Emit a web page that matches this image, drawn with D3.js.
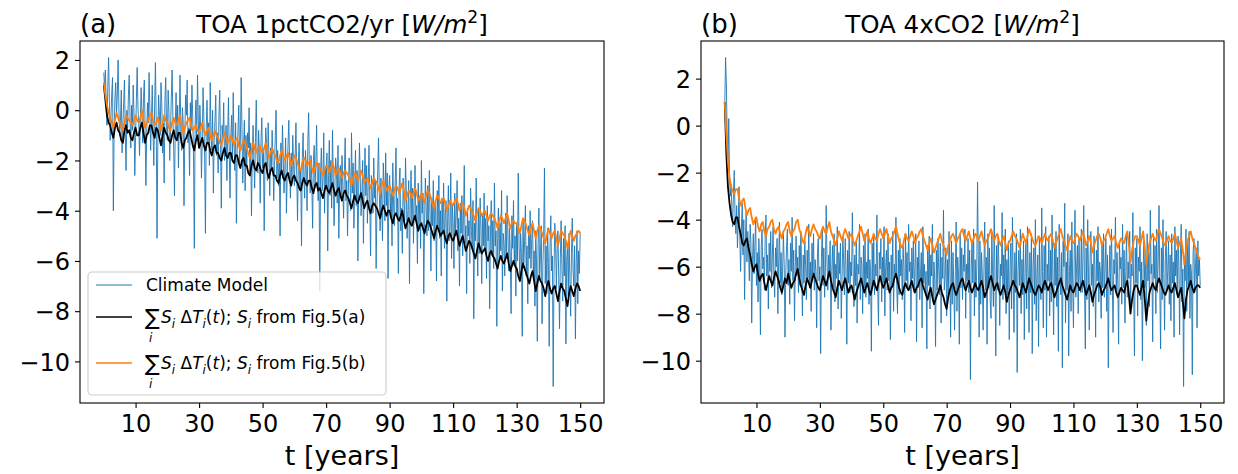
<!DOCTYPE html>
<html>
<head>
<meta charset="utf-8">
<script src="https://cdn.jsdelivr.net/npm/d3@7"></script>
<style>
  body { margin: 0; background: #fff; }
  text { font-family: "DejaVu Sans", sans-serif; fill: #000; white-space: pre; }
</style>
</head>
<body>
<div id="wrapper"></div>
<script>
// time span of every series (years); points are spread evenly over it
const tStart = 0, tEnd = 150;
const xTicks = [10, 30, 50, 70, 90, 110, 130, 150];
const yTicks = [-10, -8, -6, -4, -2, 0, 2];

// (a) 1pctCO2 - climate model, quarter-year samples
const modelA = [
  1.5, 0.8, 1.6, 0.2, -0.6, 0.9, 2.1, 0.4, -1.2, -0.3, 0.7, 1.3, -4.0, -0.8, 0.5, 1.1, -0.2, 0.6, 2.0, 0.1, -1.0, -0.4, 0.8, -1.7, -0.6, 0.3, 1.2, -0.9, -2.4, 0.0,
  -0.7, 0.6, 1.4, -0.3, -1.5, 0.2, -0.8, 1.0, -0.2, -2.6, -1.1, 0.4, 1.7, 0.1, -0.6, -1.8, -0.4, 0.9, -0.1, -1.3, 0.5, 1.2, -0.7, -3.0, -0.9, 0.3, -0.5, 1.5, 0.0, -1.6,
  -0.3, 1.0, -0.9, -2.2, 0.2, 1.9, -0.4, -5.1, -1.4, 0.6, -0.2, -1.0, 1.1, 0.3, -1.7, -0.5, -2.9, 0.4, 1.3, -0.6, -1.2, 0.8, -0.1, -2.0, -0.8, 0.5, 1.6, -0.3, -1.5, -3.4,
  -0.6, 0.7, -1.1, 0.2, -2.3, -0.4, 1.4, -0.9, -1.6, 0.1, -0.5, -3.8, -1.0, 0.6, -0.2, 1.2, -1.3, -0.7, -2.6, 0.3, -0.8, 1.0, -0.3, -1.9, -5.5, -0.6, 0.4, -1.2, 1.4, -0.4,
  -1.5, 0.2, -0.8, -2.7, -1.1, 0.9, -0.3, -1.9, -4.9, -0.7, 0.4, -1.3, -0.5, -2.2, 1.1, -0.9, -1.6, 0.0, -3.3, -1.2, -0.4, 0.6, -1.8, -0.9, -2.5, -0.2, 0.8, -1.4, -3.9, -0.6,
  -1.1, 0.3, -2.0, -1.4, -0.6, -2.8, -0.9, 0.5, -1.7, -3.5, -1.0, -0.2, -1.9, 0.7, -1.3, -2.4, -0.5, -4.5, -1.6, -0.8, 0.2, -2.1, -1.2, 1.3, -0.7, -2.9, -1.5, -0.4, -3.2, -1.0,
  -2.2, -0.9, -1.5, 0.1, -2.6, -1.3, -4.2, -1.8, -0.6, -2.0, -3.1, -1.1, 0.4, -1.7, -2.5, -0.8, -1.9, -3.7, -1.2, -0.3, -2.3, -1.6, -4.8, -2.0, -0.7, -1.4, -2.8, -0.5, -1.8, -3.4,
  -1.5, -2.4, -0.8, -1.9, -3.6, -2.2, -1.0, 0.0, -2.7, -1.6, -3.0, -2.1, -5.0, -1.3, -2.5, -0.6, -1.9, -3.3, -2.3, -1.1, -4.1, -2.6, -1.4, -0.4, -2.0, -3.5, -1.7, -2.8, -1.0, -2.2,
  -3.0, -1.8, -0.5, -2.6, -4.4, -2.1, -1.3, -3.2, -2.4, -5.4, -1.9, -0.9, -2.7, -3.5, -1.6, -2.3, -4.0, -1.2, -0.1, -2.5, -3.3, -1.8, -2.9, -4.7, -2.0, -1.4, -3.1, -2.2, -0.6, -2.8,
  -3.6, -2.1, -7.2, -2.5, -1.5, -3.2, -2.8, -0.9, -4.1, -2.3, -3.0, -1.7, -5.6, -2.6, -1.2, -3.4, -2.0, -3.9, -0.8, -2.7, -4.6, -3.1, -1.9, -2.4, -3.7, -1.4, -5.1, -2.9, -2.2, -3.5,
  -1.8, -3.0, -4.3, -2.5, -1.1, -3.6, -2.8, -5.0, -3.2, -1.9, -2.6, -4.0, -0.9, -3.3, -2.1, -4.7, -3.0, -1.6, -3.8, -2.4, -6.0, -3.1, -1.3, -2.7, -4.2, -3.5, -2.0, -5.3, -2.9, -1.5,
  -3.4, -2.2, -4.5, -3.0, -1.4, -3.7, -5.8, -2.6, -3.2, -4.1, -1.9, -3.5, -2.8, -6.3, -3.9, -2.4, -1.1, -3.3, -4.8, -2.7, -3.6, -5.2, -2.1, -3.0, -4.4, -1.7, -3.8, -2.5, -6.7, -3.2,
  -2.6, -4.0, -3.3, -5.4, -2.1, -3.8, -4.6, -2.9, -1.5, -4.2, -3.5, -6.5, -3.0, -2.3, -4.8, -3.9, -5.7, -2.7, -3.6, -4.4, -1.9, -3.2, -5.1, -4.0, -2.8, -6.9, -3.7, -2.4, -4.5, -3.1,
  -5.3, -3.6, -2.2, -4.3, -3.8, -6.1, -2.9, -4.7, -3.4, -5.5, -2.0, -4.1, -3.3, -7.3, -4.5, -2.7, -3.9, -5.0, -3.0, -4.8, -2.4, -4.2, -6.4, -3.5, -4.6, -2.8, -5.2, -3.7, -4.0, -6.8,
  -3.2, -4.6, -2.6, -5.1, -4.0, -6.6, -3.5, -4.8, -2.9, -5.5, -4.2, -3.6, -7.6, -4.4, -3.0, -5.2, -4.7, -2.5, -5.9, -3.8, -4.5, -6.3, -3.3, -5.0, -4.1, -2.8, -5.6, -4.3, -7.0, -3.7,
  -4.9, -3.4, -5.8, -4.2, -2.2, -5.3, -4.6, -7.3, -3.9, -5.0, -4.4, -6.1, -3.1, -4.8, -5.5, -3.6, -8.3, -4.5, -5.2, -2.7, -4.9, -6.6, -4.0, -5.7, -3.5, -4.7, -6.9, -4.1, -5.4, -3.3,
  -5.5, -4.3, -6.7, -3.8, -5.2, -4.6, -7.9, -5.0, -3.6, -5.8, -4.4, -6.3, -2.9, -5.4, -4.8, -8.6, -5.1, -3.9, -6.0, -4.5, -5.6, -3.2, -7.2, -4.9, -5.3, -6.6, -4.1, -5.9, -3.4, -5.0,
  -6.4, -4.7, -5.8, -8.1, -4.2, -5.5, -3.6, -6.2, -5.0, -7.4, -4.5, -6.0, -2.5, -5.3, -6.8, -4.9, -5.7, -9.0, -4.3, -6.1, -5.2, -3.8, -6.6, -5.4, -7.7, -4.6, -5.9, -4.0, -6.3, -5.1,
  -4.4, -6.5, -5.6, -7.8, -4.8, -6.0, -9.2, -5.3, -3.9, -6.7, -5.7, -4.6, -8.5, -6.2, -5.0, -2.3, -6.9, -5.4, -7.3, -4.7, -6.1, -9.4, -5.5, -4.2, -6.4, -5.8, -11.0, -6.6, -4.5, -5.2,
  -7.1, -5.5, -4.8, -6.8, -8.7, -5.9, -4.4, -6.3, -7.6, -5.1, -6.6, -4.6, -9.3, -6.0, -5.3, -7.4, -4.9, -6.7, -8.2, -5.7, -4.3, -6.4, -7.0, -5.4, -9.1, -6.1, -4.8, -7.7, -5.6, -6.5,
  -4.9
];
// (a) sum with S_i from Fig.5(a), half-year samples
const fitA_a = [
  1.0, 0.4, -0.2, -0.5, -0.6, -0.9, -1.1, -0.7, -0.5, -0.8, -0.9, -1.2, -1.3, -0.8, -0.6, -0.9, -0.8, -1.1, -1.2, -0.9,
  -0.7, -1.0, -1.0, -0.7, -0.5, -0.9, -1.3, -1.0, -0.9, -0.6, -0.6, -0.9, -1.1, -0.7, -0.8, -1.1, -1.4, -1.0, -0.7, -0.9,
  -1.0, -1.2, -1.3, -1.0, -0.8, -1.1, -1.2, -0.9, -0.9, -1.3, -1.5, -1.2, -1.1, -0.9, -0.8, -1.1, -1.4, -1.6, -1.2, -1.0,
  -1.5, -1.3, -1.1, -1.4, -1.6, -1.3, -1.3, -1.6, -1.8, -1.5, -1.4, -1.7, -1.7, -1.9, -2.0, -1.7, -1.5, -1.8, -1.9, -1.7,
  -1.7, -2.0, -2.1, -1.8, -1.8, -2.1, -2.3, -2.0, -1.9, -2.2, -2.2, -2.5, -2.6, -2.2, -2.0, -2.3, -2.4, -2.1, -2.2, -2.4,
  -2.5, -2.2, -2.1, -2.5, -2.7, -2.4, -2.3, -2.6, -2.6, -2.8, -2.9, -2.6, -2.4, -2.7, -2.8, -2.6, -2.5, -2.8, -3.0, -2.7,
  -2.6, -2.8, -2.9, -3.1, -3.2, -2.9, -2.7, -2.9, -3.0, -2.8, -2.8, -3.1, -3.3, -3.0, -2.9, -3.2, -3.1, -3.3, -3.5, -3.2,
  -3.0, -3.2, -3.3, -3.1, -2.9, -3.2, -3.4, -3.2, -3.1, -3.4, -3.6, -3.3, -3.2, -3.4, -3.5, -3.7, -3.9, -3.6, -3.4, -3.6,
  -3.7, -3.5, -3.3, -3.6, -3.9, -3.7, -3.6, -3.9, -4.1, -3.8, -3.7, -3.8, -3.9, -4.1, -4.3, -4.0, -3.8, -4.0, -4.2, -4.0,
  -4.0, -4.3, -4.5, -4.2, -4.1, -4.3, -4.4, -4.2, -4.0, -4.4, -4.7, -4.5, -4.3, -4.5, -4.6, -4.4, -4.2, -4.5, -4.8, -4.6,
  -4.5, -4.7, -4.9, -4.6, -4.4, -4.5, -4.7, -4.9, -5.1, -4.8, -4.6, -4.8, -5.0, -4.9, -4.8, -5.1, -5.3, -5.0, -4.9, -5.1,
  -5.2, -5.0, -4.8, -5.1, -5.4, -5.2, -5.0, -5.3, -5.6, -5.4, -5.2, -5.3, -5.5, -5.7, -5.9, -5.6, -5.3, -5.5, -5.7, -5.6,
  -5.5, -5.8, -6.0, -5.7, -5.6, -5.8, -5.9, -6.1, -6.3, -6.0, -5.8, -6.0, -6.1, -5.9, -5.7, -6.1, -6.4, -6.2, -6.0, -6.2,
  -6.3, -6.6, -6.8, -6.4, -6.1, -6.3, -6.5, -6.7, -6.9, -6.6, -6.4, -6.8, -7.2, -6.9, -6.6, -6.8, -6.9, -7.1, -7.4, -7.0,
  -6.8, -7.1, -7.3, -7.1, -7.0, -7.3, -7.6, -7.2, -6.9, -7.1, -7.2, -7.5, -7.8, -7.3, -7.0, -7.2, -7.4, -7.1, -6.9, -7.0,
  -7.2
];
// (a) sum with S_i from Fig.5(b), half-year samples
const fitA_b = [
  1.1, 0.6, 0.2, -0.1, -0.3, -0.5, -0.7, -0.4, -0.1, -0.3, -0.5, -0.7, -0.8, -0.5, -0.2, -0.3, -0.4, -0.5, -0.6, -0.4,
  -0.2, -0.4, -0.5, -0.3, 0.0, -0.4, -0.7, -0.5, -0.4, -0.2, -0.1, -0.4, -0.6, -0.5, -0.3, -0.5, -0.8, -0.5, -0.2, -0.4,
  -0.5, -0.7, -0.8, -0.5, -0.3, -0.5, -0.6, -0.4, -0.2, -0.6, -0.9, -0.7, -0.5, -0.4, -0.3, -0.6, -0.8, -0.7, -0.6, -0.8,
  -0.9, -0.7, -0.5, -0.8, -1.0, -0.8, -0.7, -1.0, -1.2, -1.0, -0.8, -1.0, -1.1, -1.3, -1.4, -1.1, -0.9, -1.1, -1.3, -1.2,
  -1.0, -1.2, -1.4, -1.2, -1.1, -1.4, -1.6, -1.4, -1.2, -1.3, -1.5, -1.7, -1.9, -1.6, -1.3, -1.5, -1.7, -1.5, -1.4, -1.6,
  -1.7, -1.5, -1.3, -1.6, -1.9, -1.7, -1.5, -1.7, -1.8, -2.0, -2.1, -1.8, -1.6, -1.8, -2.0, -1.8, -1.7, -1.9, -2.2, -2.0,
  -1.8, -1.9, -2.1, -2.3, -2.4, -2.1, -1.9, -2.0, -2.2, -2.1, -2.0, -2.3, -2.5, -2.3, -2.1, -2.2, -2.3, -2.4, -2.6, -2.4,
  -2.2, -2.3, -2.5, -2.3, -2.1, -2.3, -2.6, -2.4, -2.3, -2.5, -2.7, -2.5, -2.4, -2.5, -2.6, -2.8, -3.0, -2.7, -2.5, -2.6,
  -2.8, -2.6, -2.4, -2.6, -2.9, -2.8, -2.7, -2.9, -3.1, -2.9, -2.7, -2.8, -2.9, -3.1, -3.3, -3.0, -2.8, -3.0, -3.2, -3.1,
  -3.0, -3.2, -3.4, -3.2, -3.0, -3.1, -3.3, -3.1, -2.9, -3.2, -3.6, -3.4, -3.2, -3.3, -3.5, -3.3, -3.1, -3.3, -3.6, -3.5,
  -3.3, -3.5, -3.7, -3.4, -3.2, -3.3, -3.5, -3.7, -3.9, -3.6, -3.4, -3.5, -3.7, -3.6, -3.5, -3.7, -4.0, -3.8, -3.6, -3.7,
  -3.8, -3.6, -3.5, -3.7, -4.0, -3.8, -3.7, -3.9, -4.2, -4.0, -3.8, -3.9, -4.1, -4.2, -4.4, -4.1, -3.9, -4.0, -4.2, -4.1,
  -4.0, -4.2, -4.4, -4.2, -4.1, -4.2, -4.3, -4.5, -4.7, -4.4, -4.2, -4.3, -4.5, -4.3, -4.1, -4.4, -4.7, -4.5, -4.4, -4.5,
  -4.5, -4.7, -4.9, -4.6, -4.3, -4.4, -4.6, -4.8, -5.0, -4.7, -4.5, -4.8, -5.1, -4.8, -4.6, -4.7, -4.9, -5.1, -5.3, -5.0,
  -4.7, -4.9, -5.1, -4.9, -4.8, -5.1, -5.4, -5.1, -4.8, -4.9, -5.0, -5.2, -5.5, -5.1, -4.8, -5.0, -5.2, -5.0, -4.9, -4.8,
  -4.9
];

// (b) 4xCO2 - climate model, quarter-year samples
const modelB = [
  0.9, 2.9, 1.8, -0.4, -1.6, 0.3, -2.2, -3.0, -2.5, -3.6, -4.3, -2.8, -1.9, -3.9, -4.6, -3.4, -5.2, -4.1, -2.6, -4.8, -6.2, -4.4, -3.3, -5.5, -4.0, -7.4, -4.9, -3.7, -5.8, -4.5,
  -5.3, -6.6, -4.2, -5.0, -8.4, -5.7, -4.6, -6.3, -5.1, -3.9, -6.8, -5.4, -7.5, -4.8, -5.9, -8.9, -5.2, -4.4, -6.1, -5.6, -7.0, -4.7, -3.8, -6.4, -5.5, -7.8, -5.0, -6.2, -4.5, -6.9,
  -5.6, -4.3, -6.5, -7.3, -5.2, -6.0, -4.8, -8.0, -5.8, -4.1, -6.7, -5.4, -7.2, -6.1, -4.6, -5.9, -9.0, -6.3, -5.1, -4.4, -6.8, -5.7, -7.6, -5.0, -6.2, -3.9, -6.6, -5.3, -8.3, -6.0,
  -4.7, -6.4, -5.6, -7.1, -5.1, -6.8, -4.5, -6.1, -8.1, -5.5, -6.7, -4.9, -5.9, -7.4, -5.3, -6.5, -4.2, -6.9, -5.8, -7.9, -5.0, -6.3, -4.6, -7.0, -5.7, -6.2, -8.6, -5.4, -4.8, -6.6,
  -6.0, -9.7, -5.6, -4.4, -6.8, -5.2, -7.3, -6.1, -3.4, -5.8, -7.0, -5.5, -6.4, -4.9, -8.7, -6.2, -5.1, -6.9, -4.6, -7.5, -5.9, -6.5, -4.3, -7.8, -5.4, -6.3, -5.0, -8.2, -6.6, -4.7,
  -5.7, -7.2, -4.8, -6.0, -9.3, -5.3, -6.7, -4.5, -7.1, -5.8, -6.4, -3.7, -6.1, -7.7, -5.5, -6.8, -4.9, -8.4, -5.9, -6.3, -4.2, -7.4, -5.6, -6.0, -8.0, -5.1, -6.9, -4.6, -7.3, -5.8,
  -6.5, -4.4, -7.6, -5.7, -6.2, -9.6, -5.0, -6.8, -4.7, -7.2, -5.9, -6.4, -3.8, -6.9, -8.5, -5.4, -6.1, -4.8, -7.5, -5.6, -6.7, -4.3, -8.1, -6.0, -5.3, -7.0, -4.6, -6.6, -5.8, -9.1,
  -5.5, -6.9, -4.5, -7.9, -5.9, -6.3, -3.9, -6.8, -8.0, -5.3, -7.2, -4.8, -6.4, -5.7, -7.4, -5.1, -6.0, -8.8, -4.6, -6.6, -5.4, -7.0, -4.2, -6.2, -5.8, -8.3, -5.2, -6.5, -4.9, -7.1,
  -6.0, -4.6, -9.2, -5.6, -6.9, -4.9, -7.4, -6.3, -5.4, -8.6, -4.3, -6.7, -5.9, -7.1, -6.2, -9.5, -5.1, -6.8, -4.7, -7.8, -5.5, -6.4, -4.2, -7.5, -5.8, -6.6, -9.4, -5.3, -7.0, -4.8,
  -6.1, -7.2, -5.0, -8.4, -5.6, -6.5, -3.6, -7.0, -6.4, -5.2, -8.1, -5.7, -7.3, -4.5, -6.0, -9.0, -4.9, -7.6, -5.4, -6.8, -8.7, -6.2, -4.1, -7.9, -5.6, -6.3, -9.3, -4.6, -6.9, -5.2,
  -7.4, -5.5, -6.2, -4.4, -8.2, -5.9, -6.6, -4.8, -7.1, -5.3, -10.8, -6.0, -5.0, -6.7, -4.4, -8.1, -5.7, -7.3, -6.1, -2.4, -5.8, -9.0, -4.9, -7.6, -5.4, -6.3, -8.7, -6.2, -4.1, -7.0,
  -5.6, -9.3, -4.6, -6.9, -5.2, -7.5, -8.2, -4.5, -6.3, -7.7, -3.4, -6.6, -9.8, -5.1, -7.0, -4.7, -6.0, -8.5, -5.9, -6.4, -3.7, -7.4, -5.5, -6.8, -4.4, -8.0, -5.7, -7.2, -4.9, -9.1,
  -6.1, -5.0, -7.8, -3.9, -6.5, -8.8, -5.4, -7.1, -4.6, -10.5, -6.2, -5.3, -6.8, -4.4, -8.0, -5.7, -7.2, -4.9, -9.1, -6.1, -5.0, -7.8, -4.3, -6.5, -8.8, -5.4, -7.1, -4.6, -9.7, -6.0,
  -5.2, -7.6, -4.0, -8.3, -6.3, -5.5, -9.4, -4.8, -6.9, -7.4, -3.5, -6.2, -8.6, -5.1, -7.0, -4.3, -9.0, -5.9, -6.6, -4.7, -8.1, -5.3, -7.5, -3.8, -6.4, -8.9, -5.0, -6.8, -4.5, -7.7,
  -5.6, -9.6, -4.2, -6.3, -7.2, -5.4, -10.3, -4.9, -6.0, -3.3, -8.4, -5.8, -7.0, -4.6, -9.8, -6.2, -5.3, -7.9, -4.1, -6.7, -8.6, -5.5, -3.6, -7.3, -6.0, -5.1, -8.0, -4.8, -6.5, -7.1,
  -4.4, -7.1, -5.7, -3.4, -6.9, -9.5, -5.2, -7.4, -4.0, -6.3, -8.7, -5.6, -4.5, -6.8, -5.9, -7.7, -4.7, -6.1, -9.0, -5.3, -6.6, -4.3, -7.5, -5.8, -6.2, -8.2, -5.0, -6.9, -4.6, -7.3,
  -6.0, -4.8, -7.9, -5.5, -10.3, -6.4, -5.1, -7.2, -4.4, -6.6, -8.8, -5.7, -6.3, -3.9, -7.0, -5.4, -6.8, -9.3, -4.9, -6.1, -5.6, -7.6, -4.2, -6.9, -5.3, -8.4, -6.2, -4.7, -7.3, -5.8,
  -6.5, -4.5, -7.8, -5.9, -6.4, -3.7, -7.1, -9.8, -5.2, -6.7, -4.8, -8.1, -5.6, -6.2, -4.3, -7.4, -5.8, -10.0, -6.0, -4.9, -6.9, -5.3, -8.5, -4.6, -6.6, -5.4, -7.7, -3.6, -6.3, -5.9,
  -9.2, -4.8, -6.5, -5.1, -8.0, -4.4, -7.1, -5.7, -3.4, -6.9, -9.5, -5.2, -7.4, -4.0, -6.3, -8.7, -5.6, -4.5, -7.0, -6.2, -4.9, -7.6, -5.5, -8.3, -4.6, -6.7, -5.8, -9.0, -4.3, -6.4,
  -5.3, -7.2, -4.7, -6.0, -8.9, -5.5, -4.2, -7.5, -6.1, -11.1, -5.8, -6.6, -4.4, -7.9, -5.0, -6.8, -4.5, -8.2, -5.9, -6.3, -10.6, -5.4, -4.8, -7.1, -6.0, -5.2, -8.6, -4.9, -6.4, -5.7,
  -6.8
];
// (b) sum with S_i from Fig.5(a), half-year samples
const fitB_a = [
  1.0, -1.2, -2.6, -3.3, -3.8, -4.1, -4.2, -3.9, -3.9, -4.3, -4.6, -5.0, -5.1, -4.9, -4.8, -5.2, -5.5, -5.9, -6.2, -6.0,
  -5.9, -6.3, -6.6, -6.4, -6.3, -6.7, -7.0, -6.7, -6.4, -6.6, -6.8, -6.5, -6.2, -6.4, -6.6, -6.9, -7.1, -6.8, -6.5, -6.7,
  -6.3, -6.6, -6.9, -6.7, -6.6, -6.3, -6.1, -6.5, -6.8, -7.0, -7.2, -6.8, -6.5, -6.7, -6.9, -6.6, -6.3, -6.5, -6.7, -6.9,
  -7.0, -6.7, -6.4, -6.6, -6.8, -6.5, -6.2, -6.6, -6.9, -7.1, -7.3, -6.9, -6.6, -6.8, -7.0, -6.7, -6.5, -6.8, -7.1, -6.9,
  -6.8, -7.1, -7.4, -7.1, -6.9, -6.7, -6.5, -6.8, -7.1, -6.9, -6.7, -7.0, -7.2, -6.9, -6.6, -6.8, -7.0, -6.7, -6.4, -6.7,
  -6.9, -6.7, -6.5, -6.8, -7.1, -6.9, -6.8, -6.5, -6.3, -6.6, -6.9, -7.1, -7.2, -6.9, -6.7, -6.9, -7.0, -6.8, -6.6, -6.9,
  -7.1, -6.9, -6.8, -6.6, -6.5, -6.8, -7.0, -7.2, -7.4, -7.1, -6.9, -7.3, -7.6, -7.4, -7.2, -7.0, -6.8, -7.1, -7.3, -7.6,
  -7.8, -7.3, -7.0, -6.8, -6.7, -7.0, -7.2, -7.0, -6.8, -6.6, -6.5, -6.8, -7.0, -6.8, -6.6, -6.9, -7.1, -6.9, -6.7, -6.9,
  -7.0, -6.8, -6.6, -6.9, -7.3, -7.1, -6.9, -6.6, -6.4, -6.7, -7.0, -6.8, -6.7, -7.0, -7.2, -7.0, -6.8, -7.1, -7.5, -7.2,
  -7.0, -6.8, -6.6, -6.8, -6.9, -7.1, -7.3, -7.0, -6.7, -6.9, -7.1, -6.8, -6.5, -6.7, -6.9, -7.1, -7.2, -7.0, -6.8, -6.9,
  -7.1, -6.8, -6.6, -6.8, -7.0, -6.8, -6.7, -7.0, -7.3, -7.1, -6.9, -6.7, -6.5, -6.8, -7.0, -7.2, -7.4, -7.1, -6.8, -7.0,
  -7.1, -6.9, -6.7, -6.8, -7.0, -6.8, -6.6, -6.9, -7.2, -7.0, -6.8, -7.1, -7.5, -7.2, -7.0, -6.8, -6.7, -6.9, -7.2, -7.0,
  -6.9, -6.7, -6.5, -6.8, -7.0, -6.9, -6.8, -7.1, -7.3, -7.1, -6.9, -7.0, -7.1, -6.8, -6.6, -7.2, -8.0, -7.4, -7.0, -6.8,
  -6.8, -7.0, -7.2, -6.9, -6.6, -7.4, -8.3, -7.6, -7.1, -6.9, -6.7, -6.9, -7.0, -6.7, -6.5, -6.7, -6.9, -7.1, -7.2, -7.0,
  -6.8, -7.0, -7.1, -6.9, -6.7, -7.0, -7.3, -7.1, -6.9, -7.5, -8.2, -7.4, -7.0, -6.8, -6.6, -6.9, -7.1, -6.9, -6.8, -6.8,
  -6.9
];
// (b) sum with S_i from Fig.5(b), half-year samples
const fitB_b = [
  1.0, -0.4, -1.5, -2.2, -2.6, -2.8, -2.9, -2.7, -2.7, -3.1, -3.4, -3.2, -3.1, -3.5, -3.8, -3.6, -3.5, -3.9, -4.2, -4.0,
  -3.9, -4.3, -4.5, -4.2, -4.1, -4.5, -4.7, -4.4, -4.3, -4.1, -4.0, -4.4, -4.6, -4.4, -4.3, -4.6, -4.8, -4.5, -4.4, -4.2,
  -4.1, -4.5, -4.7, -4.5, -4.4, -4.1, -4.0, -4.4, -4.6, -4.9, -5.0, -4.6, -4.3, -4.5, -4.7, -4.4, -4.2, -4.4, -4.5, -4.7,
  -4.8, -4.5, -4.3, -4.5, -4.6, -4.3, -4.1, -4.5, -4.7, -4.9, -5.1, -4.8, -4.5, -4.7, -4.9, -4.6, -4.4, -4.6, -4.8, -4.7,
  -4.6, -4.9, -5.1, -4.9, -4.7, -4.5, -4.3, -4.6, -4.9, -4.7, -4.5, -4.8, -5.0, -4.8, -4.6, -4.8, -4.9, -4.6, -4.4, -4.6,
  -4.8, -4.6, -4.4, -4.7, -5.0, -4.8, -4.7, -4.5, -4.3, -4.6, -4.9, -5.1, -5.2, -4.9, -4.6, -4.8, -4.9, -4.7, -4.5, -4.7,
  -5.0, -4.8, -4.7, -4.5, -4.4, -4.7, -4.9, -5.1, -5.3, -5.0, -4.8, -5.1, -5.4, -5.2, -5.0, -4.8, -4.6, -4.9, -5.1, -5.3,
  -5.5, -5.1, -4.9, -4.7, -4.6, -4.8, -5.0, -4.8, -4.7, -4.5, -4.4, -4.7, -4.9, -4.7, -4.5, -4.8, -5.0, -4.8, -4.6, -4.7,
  -4.9, -4.7, -4.5, -4.8, -5.1, -4.9, -4.8, -4.6, -4.4, -4.7, -4.9, -4.7, -4.6, -4.9, -5.1, -4.9, -4.7, -5.0, -5.3, -5.0,
  -4.9, -4.7, -4.5, -4.7, -4.8, -5.0, -5.2, -4.9, -4.6, -4.8, -5.0, -4.7, -4.4, -4.6, -4.8, -5.0, -5.1, -4.9, -4.7, -4.8,
  -5.0, -4.8, -4.6, -4.8, -4.9, -4.7, -4.6, -4.9, -5.2, -5.0, -4.8, -4.6, -4.4, -4.7, -4.9, -5.1, -5.3, -5.0, -4.7, -4.9,
  -5.0, -4.8, -4.6, -4.7, -4.9, -4.7, -4.5, -4.8, -5.1, -4.9, -4.7, -5.0, -5.4, -5.1, -4.9, -4.7, -4.6, -4.8, -5.1, -4.9,
  -4.8, -4.6, -4.4, -4.7, -4.9, -4.8, -4.7, -5.0, -5.2, -5.0, -4.8, -4.9, -5.0, -4.7, -4.5, -5.1, -5.8, -5.3, -4.9, -4.7,
  -4.7, -4.9, -5.1, -4.8, -4.5, -5.2, -5.9, -5.4, -5.0, -4.8, -4.6, -4.8, -4.9, -4.6, -4.4, -4.6, -4.8, -5.0, -5.1, -4.9,
  -4.7, -4.9, -5.0, -4.8, -4.6, -4.9, -5.2, -5.0, -4.8, -5.3, -5.9, -5.3, -4.9, -4.7, -4.5, -4.8, -5.0, -5.2, -5.4, -5.6,
  -5.7
];

const panelLabels = ["(a)", "(b)"];
const panelTitles = ["TOA 1pctCO2/yr [", "TOA 4xCO2 ["];
const legendNames = ["Climate Model", "Fig.5(a)", "Fig.5(b)"];

function drawChart() {
  // 1. Dimensions
  const dimensions = { width: 1238, height: 474, top: 41, bottom: 403 };
  const panels = [
    { left: 80, right: 604, series: [modelA, fitA_a, fitA_b], legend: true },
    { left: 701, right: 1224, series: [modelB, fitB_a, fitB_b], legend: false }
  ];
  const colors = ["#1f77b4", "#000000", "#ff7f0e"];
  const widths = [0.9, 1.8, 1.8];

  // 2. Canvas
  const svg = d3.select("#wrapper").append("svg")
    .attr("width", dimensions.width)
    .attr("height", dimensions.height);

  // helper for mathtext-like runs: [text, style] with style "", "i", "sub", "sup"
  const richText = (sel, parts, size) => {
    let shift = 0;
    parts.forEach(([str, st]) => {
      const small = st === "sub" || st === "sup";
      const target = st === "sup" ? -0.42 * size : (st === "sub" ? 0.28 * size : 0);
      sel.append("tspan")
        .attr("dy", target - shift)
        .style("font-size", (small ? size * 0.7 : size) + "px")
        .style("font-style", (st === "i" || st === "sub") ? "italic" : "normal")
        .text(str);
      shift = target;
    });
  };

  panels.forEach((p, pi) => {
    // 3. Scales (matplotlib-like 5% margins)
    const all = p.series.flat();
    const [lo, hi] = d3.extent(all);
    const pad = (hi - lo) * 0.05;
    const tPad = (tEnd - tStart) * 0.05;
    const xScale = d3.scaleLinear().domain([tStart - tPad, tEnd + tPad]).range([p.left, p.right]);
    const yScale = d3.scaleLinear().domain([lo - pad, hi + pad]).range([dimensions.bottom, dimensions.top]);

    const g = svg.append("g");

    // 4. Lines
    p.series.forEach((vals, si) => {
      const step = (tEnd - tStart) / (vals.length - 1);
      const line = d3.line()
        .x((d, i) => xScale(tStart + i * step))
        .y(d => yScale(d));
      g.append("path")
        .datum(vals)
        .attr("d", line)
        .attr("fill", "none")
        .attr("stroke", colors[si])
        .attr("stroke-width", widths[si])
        .attr("stroke-linejoin", "round");
    });

    // 5. Axes
    const yAxis = d3.axisLeft(yScale).tickValues(yTicks).tickSize(5).tickPadding(5).tickFormat(d3.format("d"));
    const xAxis = d3.axisBottom(xScale).tickValues(xTicks).tickSize(5).tickPadding(6).tickFormat(d3.format("d"));
    const ya = g.append("g").attr("transform", `translate(${p.left},0)`).call(yAxis);
    const xa = g.append("g").attr("transform", `translate(0,${dimensions.bottom})`).call(xAxis);
    [ya, xa].forEach(a => {
      a.select(".domain").remove();
      a.attr("font-family", "DejaVu Sans").attr("font-size", 24);
      a.selectAll("line").attr("stroke", "#000").attr("stroke-width", 1.1);
    });
    ya.selectAll("text").attr("dy", "0.36em");
    xa.selectAll("text").attr("dy", "0.74em");

    g.append("rect")
      .attr("x", p.left).attr("y", dimensions.top)
      .attr("width", p.right - p.left).attr("height", dimensions.bottom - dimensions.top)
      .attr("fill", "none").attr("stroke", "#000").attr("stroke-width", 1.1);

    // x label
    g.append("text")
      .attr("x", (p.left + p.right) / 2).attr("y", 465)
      .attr("text-anchor", "middle")
      .style("font-size", "27px")
      .text("t [years]");

    // titles
    g.append("text")
      .attr("x", p.left).attr("y", 33)
      .style("font-size", "26px")
      .text(panelLabels[pi]);
    const title = g.append("text")
      .attr("x", (p.left + p.right) / 2).attr("y", 33)
      .attr("text-anchor", "middle");
    richText(title, [[panelTitles[pi], ""], ["W/m", "i"], ["2", "sup"], ["]", ""]], 24.5);

    // 6. Legend
    if (p.legend) {
      const lx = p.left + 8, ly = 272, lw = 298, lh = 123;
      const leg = g.append("g");
      leg.append("rect")
        .attr("x", lx).attr("y", ly).attr("width", lw).attr("height", lh)
        .attr("rx", 4)
        .attr("fill", "#fff").attr("fill-opacity", 0.8)
        .attr("stroke", "#cccccc").attr("stroke-width", 1.1);
      const rows = [ly + 13, ly + 45, ly + 91];
      rows.forEach((ry, ri) => {
        leg.append("line")
          .attr("x1", lx + 8).attr("x2", lx + 44)
          .attr("y1", ry).attr("y2", ry)
          .attr("stroke", colors[ri]).attr("stroke-width", ri === 0 ? 1.0 : 1.5);
        if (ri === 0) {
          leg.append("text").attr("x", lx + 58).attr("y", ry + 6)
            .style("font-size", "17px").text(legendNames[0]);
        } else {
          leg.append("text").attr("x", lx + 57).attr("y", ry + 8)
            .style("font-size", "22px").text("\u2211");
          leg.append("text").attr("x", lx + 61).attr("y", ry + 25)
            .style("font-size", "12px").style("font-style", "italic").text("i");
          const t = leg.append("text").attr("x", lx + 73).attr("y", ry + 6);
          richText(t, [["S", "i"], ["i", "sub"], [" \u0394", ""], ["T", "i"], ["i", "sub"], ["(", ""], ["t", "i"],
            ["); ", ""], ["S", "i"], ["i", "sub"], [" from " + legendNames[ri], ""]], 17);
        }
      });
    }
  });
}

drawChart();
</script>
</body>
</html>
